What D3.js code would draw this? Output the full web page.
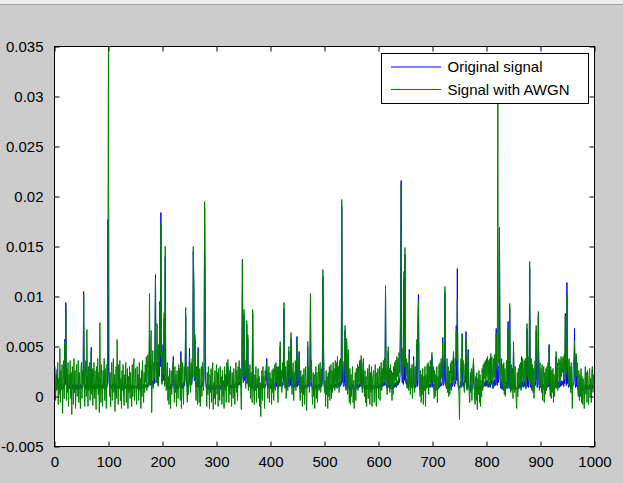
<!DOCTYPE html>
<html>
<head>
<meta charset="utf-8">
<script src="https://cdn.jsdelivr.net/npm/d3@7"></script>
<style>
  body { margin: 0; background: #cccccc; }
  text { font-family: "Liberation Sans", Arial, sans-serif; }
</style>
</head>
<body>
<script>
// signal values are stored in units of 1e-4
const unit = 1e-4;

const original = [
  16, 10, 8, 12, 27, 9, 7, 11, 9, 14, 8, 11, 7, 10, 9, 8, 12, 10, 57, 12, 94, 11, 8, 10, 7, 11, 9, 8, 12, 7, 10, 8, 12, 9, 7, 11, 8, 10, 12, 7, 9, 12, 8, 11, 7, 10, 9, 12, 8, 11,
  10, 8, 12, 105, 11, 7, 9, 12, 8, 20, 10, 7, 11, 9, 8, 12, 10, 49, 9, 7, 11, 8, 12, 9, 7, 10, 8, 12, 9, 11, 7, 10, 8, 12, 9, 11, 7, 10, 12, 8, 9, 11, 7, 10, 8, 12, 9, 14, 177, 30,
  14, 10, 8, 12, 9, 11, 7, 10, 13, 9, 8, 11, 10, 7, 12, 9, 10, 8, 11, 9, 10, 7, 9, 12, 8, 10, 11, 7, 9, 10, 8, 11, 9, 7, 10, 12, 8, 9, 11, 7, 9, 10, 8, 12, 7, 9, 11, 8, 10, 9,
  10, 8, 11, 9, 7, 10, 12, 8, 9, 11, 8, 10, 9, 12, 8, 11, 10, 9, 12, 10, 11, 9, 13, 10, 12, 60, 11, 14, 30, 10, 12, 16, 10, 20, 13, 52, 122, 14, 18, 35, 16, 12, 44, 20, 95, 30, 184, 26, 14, 18,
  52, 16, 78, 12, 140, 20, 11, 9, 14, 8, 11, 8, 10, 7, 12, 9, 8, 11, 13, 40, 10, 8, 11, 7, 9, 12, 8, 10, 7, 9, 11, 13, 9, 45, 10, 8, 13, 10, 8, 15, 11, 20, 80, 16, 12, 10, 14, 9, 12, 48,
  14, 10, 15, 12, 18, 20, 145, 110, 16, 58, 12, 10, 9, 14, 10, 49, 11, 9, 8, 10, 9, 12, 10, 13, 15, 11, 20, 188, 104, 14, 10, 8, 11, 7, 9, 12, 7, 9, 11, 8, 10, 7, 9, 12, 8, 7, 10, 9, 7, 11,
  9, 11, 8, 10, 12, 9, 7, 11, 10, 8, 12, 9, 10, 8, 11, 13, 9, 10, 12, 11, 30, 10, 8, 11, 9, 12, 8, 11, 10, 9, 11, 8, 12, 10, 9, 13, 10, 12, 9, 14, 11, 15, 12, 16, 13, 10, 18, 137, 20, 14,
  82, 16, 24, 12, 18, 72, 13, 58, 11, 16, 10, 14, 9, 13, 11, 8, 82, 12, 9, 8, 11, 9, 12, 8, 10, 9, 12, 8, 10, 7, 9, 11, 8, 12, 10, 13, 9, 11, 8, 12, 10, 14, 38, 12, 9, 11, 13, 8, 12, 9,
  11, 8, 12, 9, 10, 8, 11, 13, 9, 12, 10, 30, 11, 8, 12, 10, 14, 50, 11, 13, 9, 14, 11, 16, 88, 15, 10, 12, 9, 11, 14, 9, 12, 45, 10, 13, 11, 58, 12, 9, 11, 13, 8, 12, 10, 14, 9, 12, 60, 10,
  11, 13, 45, 9, 8, 12, 9, 11, 7, 10, 8, 11, 7, 10, 12, 9, 8, 11, 50, 10, 12, 9, 13, 96, 10, 14, 9, 7, 11, 8, 10, 7, 9, 12, 8, 11, 7, 9, 12, 8, 10, 13, 9, 12, 10, 14, 120, 64, 12, 9,
  10, 7, 11, 8, 9, 7, 10, 8, 12, 7, 9, 12, 8, 11, 7, 12, 9, 11, 8, 13, 10, 12, 9, 35, 11, 13, 9, 14, 10, 15, 12, 190, 14, 35, 11, 10, 13, 66, 10, 8, 54, 11, 8, 43, 10, 7, 11, 7, 10, 8,
  10, 12, 7, 9, 7, 8, 11, 7, 12, 9, 12, 8, 11, 9, 13, 10, 12, 36, 10, 8, 12, 34, 9, 7, 11, 7, 10, 7, 9, 11, 7, 10, 12, 7, 11, 8, 12, 7, 9, 10, 11, 7, 9, 12, 8, 7, 11, 9, 12, 8,
  10, 12, 8, 11, 13, 9, 12, 10, 14, 11, 14, 11, 104, 13, 10, 8, 12, 45, 9, 12, 8, 12, 9, 11, 7, 11, 8, 12, 9, 13, 10, 14, 9, 15, 11, 16, 12, 18, 14, 22, 117, 216, 24, 14, 26, 12, 118, 16, 142, 18,
  13, 18, 10, 16, 12, 9, 47, 13, 8, 12, 9, 13, 7, 11, 40, 10, 8, 12, 9, 13, 52, 10, 72, 102, 14, 9, 7, 11, 7, 10, 8, 11, 7, 9, 8, 12, 7, 10, 9, 12, 9, 13, 8, 12, 10, 14, 9, 13, 40, 10,
  9, 12, 7, 11, 7, 10, 8, 12, 7, 10, 8, 12, 9, 13, 10, 14, 11, 15, 59, 11, 12, 15, 104, 14, 10, 8, 13, 7, 11, 8, 10, 7, 9, 13, 8, 14, 10, 15, 40, 12, 10, 15, 13, 71, 16, 128, 12, 9, 8, 10,
  9, 12, 15, 9, 63, 11, 14, 10, 8, 13, 14, 65, 10, 8, 12, 47, 10, 7, 8, 11, 7, 11, 7, 10, 12, 34, 9, 7, 8, 10, 7, 10, 8, 9, 7, 11, 8, 10, 7, 9, 8, 11, 9, 13, 10, 14, 11, 15, 10, 16,
  11, 16, 9, 14, 10, 15, 9, 38, 12, 16, 12, 8, 15, 10, 17, 11, 14, 68, 13, 11, 30, 14, 20, 160, 18, 11, 8, 15, 7, 13, 8, 13, 7, 12, 7, 10, 14, 8, 12, 75, 13, 8, 88, 11, 7, 13, 7, 12, 7, 50,
  10, 7, 12, 8, 7, 8, 10, 7, 12, 8, 13, 9, 14, 8, 40, 10, 15, 9, 13, 15, 10, 15, 8, 14, 68, 10, 16, 9, 15, 128, 14, 9, 15, 8, 13, 7, 12, 7, 11, 14, 11, 66, 16, 9, 15, 80, 13, 8, 14, 9,
  12, 7, 13, 7, 9, 12, 7, 10, 8, 12, 8, 12, 9, 14, 10, 52, 10, 7, 12, 7, 11, 8, 12, 7, 10, 7, 9, 12, 40, 9, 14, 8, 12, 15, 9, 14, 10, 16, 11, 15, 12, 16, 10, 17, 13, 83, 18, 11, 114, 13,
  15, 9, 16, 10, 13, 8, 14, 9, 7, 11, 14, 15, 68, 12, 9, 40, 10, 14, 8, 7, 11, 7, 10, 7, 12, 7, 9, 7, 9, 8, 7, 8, 12, 7, 10, 7, 11, 9, 7, 10, 12, 7, 9, 7, 10, 12, 8, 9, 11, 8
];

const withAwgn = [
  30, -4, 22, 6, 25, 34, -8, 18, 2, 48, -6, 26, 8, 32, -17, 14, 36, -2, 55, 20, 90, -4, 28, 4, 34, -10, 22, 10, 36, -2, 24, -18, 30, 12, -8, 38, 4, 26, -12, 20, 32, 0, 14, 36, -6, 24, 8, -12, 28, 34,
  -2, 26, 12, 102, 30, -10, 18, 36, 0, 67, 22, -10, 30, 6, 34, -4, 20, 45, 2, 28, -9, 18, 34, -2, 26, 10, -13, 30, 8, 38, 2, 24, -16, 74, 20, -6, 32, 12, -10, 26, 10, 38, -4, 28, 6, -12, 32, 18, 168, 360,
  30, 0, 24, -10, 18, 34, -4, 20, 38, 4, 22, -15, 10, 30, -2, 57, 16, -8, 32, 8, 36, -4, 18, -12, 26, 6, 32, 0, -9, 22, 10, 34, -6, 16, 28, -12, 20, 4, 30, -2, 24, 8, -10, 32, 0, 18, 38, -4, 14, 28,
  4, -8, 30, 10, 22, -4, 34, 6, 18, -12, 26, 0, 36, 12, -6, 24, 4, 32, 14, 40, 6, 28, 42, 10, 36, 103, 12, 44, 66, -16, 24, 46, 8, 34, 18, 48, 118, 30, 14, 73, 36, 10, 52, 28, 92, 40, 173, 36, 12, 30,
  44, 22, 84, 10, 150, 30, 6, 24, 34, -4, 20, -8, 28, 6, -12, 26, 2, 18, 32, 36, 10, -6, 30, 4, 22, -10, 26, 8, -2, 32, 12, 28, -4, 38, -12, 20, 34, 6, -8, 30, 14, 36, 89, 24, 8, -6, 30, 2, 22, 40,
  26, 4, 34, 12, 38, 20, 150, 115, 18, 62, 22, -4, 30, 8, -8, 44, 16, -6, 28, -10, 12, 30, 0, 34, 18, 6, 36, 195, 109, 16, 8, -10, 24, 2, 30, 12, -12, 22, 4, 28, -6, 18, 34, -13, 14, -2, 26, -8, 20, 32,
  2, 24, -10, 28, 8, -4, 30, 12, 20, -8, 26, 0, 16, -12, 30, 6, 22, -6, 34, 10, 37, 14, -6, 26, 2, 30, 12, -10, 24, 8, -2, 28, 10, -8, 22, 34, 4, 26, -4, 30, 12, 36, 16, 28, 6, -13, 38, 135, 30, 14,
  87, 20, 36, 8, 30, 76, 14, 62, 6, 28, 10, 32, -2, 24, 16, -6, 87, 18, 4, -8, 22, 6, 30, -6, 18, 10, 28, -2, 20, -10, 14, -20, 8, 26, -4, 30, 10, 20, -12, 26, 16, 32, 34, 20, -2, 14, 30, -6, 24, 8,
  18, -8, 26, 4, 28, -4, 20, 32, 6, 34, 14, 28, 8, -6, 30, 12, 36, 55, 10, 26, 4, 34, 18, 38, 94, 24, 8, 30, -2, 22, 36, 6, 28, 50, 10, 32, 18, 64, 20, 2, 26, 34, -4, 24, 12, 36, 6, 30, 55, 14,
  24, 32, 40, 8, -4, 26, 4, 20, -10, 22, 2, 28, -8, 18, 30, -2, -14, 20, 55, 12, 30, 4, 34, 103, 16, 36, 2, -8, 24, 0, 22, -12, 18, 30, -2, 24, -6, 14, 32, 6, 26, 34, 4, 28, 12, 36, 127, 60, 20, 4,
  16, -10, 26, 2, 20, -12, 24, 0, 30, -4, 22, 32, -2, 26, 4, 34, 10, 28, 6, 36, 14, 34, 8, 40, 18, 30, 4, 36, 12, 38, 20, 197, 32, 30, 10, 26, 34, 71, 16, 6, 58, 24, 2, 47, 14, -6, 28, -8, 22, 0,
  20, 30, -6, 16, -12, 8, 24, -4, 28, 10, 32, 6, 30, 14, 36, 12, 34, 41, 18, 4, 30, 38, 10, 0, 26, -6, 20, -10, 16, 28, -2, 22, 32, -8, 24, 4, 30, -10, 18, 22, 26, -6, 16, 32, 2, -10, 24, 8, 28, -2,
  20, 30, -4, 22, 34, 6, 28, 12, 36, 14, 38, 16, 111, 32, 20, 2, 30, 50, 10, 28, 4, 32, 8, 26, -4, 24, 2, 30, 12, 34, 16, 36, 10, 40, 20, 38, 14, 44, 24, 50, 80, 213, 40, 22, 48, 16, 125, 30, 149, 36,
  20, 38, 8, 34, 22, 6, 42, 26, 2, 28, 10, 32, -2, 24, 36, 18, 4, 30, 12, 34, 57, 16, 78, 95, 30, 10, 0, 26, -6, 22, 2, 28, -8, 20, 6, 30, -10, 22, 8, 32, 10, 34, 2, 30, 14, 36, 12, 38, 44, 18,
  14, 30, -2, 26, 0, 22, 6, 30, -6, 20, 8, 32, 12, 34, 14, 38, 18, 36, 54, 20, 30, 40, 110, 36, 16, 8, 38, 4, 30, 0, 26, 2, 22, 34, 6, 36, 14, 38, 45, 24, 16, 38, 30, 66, 36, 97, 28, 10, 2, -23,
  14, 30, 38, 10, 62, 24, 36, 16, 4, 32, 34, 58, 14, 6, 30, 42, 18, 2, -6, 24, 4, 28, -4, 22, 30, 38, 12, -2, -8, 20, -4, 24, -13, 18, 2, 26, -6, 22, -10, 16, 0, 28, 6, 32, 10, 34, 18, 36, 14, 38,
  20, 40, 10, 36, 16, 38, 12, 43, 22, 40, 24, 8, 38, 18, 42, 20, 36, 63, 30, 26, 300, 34, 44, 169, 40, 22, 14, 38, 10, 32, 6, 34, 2, 28, 0, 22, 36, 8, 30, 68, 30, 10, 93, 26, 4, 32, 6, 28, -2, 55,
  22, 4, 30, 10, -4, -12, 24, 0, 28, 8, 32, 12, 34, 6, 36, 20, 38, 10, 30, 36, 14, 38, 8, 34, 73, 20, 40, 16, 38, 135, 34, 12, 38, 6, 32, 4, 28, -2, 26, 36, 24, 71, 40, 16, 38, 85, 30, 6, 34, 10,
  28, 4, 32, -4, 18, 30, -6, 24, 2, 28, 6, 30, 10, 34, 12, 48, 20, 0, 30, -2, 26, 4, 28, -6, 22, 0, 20, 30, 45, 8, 34, 6, 30, 38, 12, 36, 16, 40, 20, 38, 24, 40, 16, 42, 28, 80, 46, 22, 103, 30,
  36, 10, 38, 14, 30, 4, 34, 8, -12, 24, 34, 38, 55, 26, 12, 43, 20, 34, 6, 0, 26, -4, 22, 0, 28, -6, 20, -8, 18, 4, -12, 16, 30, 2, 24, -6, 26, 10, -8, 22, 28, 0, 18, -6, 24, 30, 4, 16, 22, 10
];

const xTicks = [0, 100, 200, 300, 400, 500, 600, 700, 800, 900, 1000];
const yTicks = [-0.005, 0, 0.005, 0.01, 0.015, 0.02, 0.025, 0.03, 0.035];
const seriesNames = ['Original signal', 'Signal with AWGN'];
const seriesColors = ['#0000ff', '#008000'];

const width = 623, height = 483;
const margin = { left: 54.5, right: 28.5, top: 46.5, bottom: 36.5 };

const svg = d3.select('body').append('svg')
  .attr('width', width)
  .attr('height', height);

// figure background + top edge
svg.append('rect').attr('width', width).attr('height', height).attr('fill', '#cccccc');
svg.append('rect').attr('width', width).attr('height', 4).attr('fill', '#ededed');
svg.append('line').attr('x1', 0).attr('x2', width).attr('y1', 4.5).attr('y2', 4.5)
  .attr('stroke', '#a0a0a0');

const xScale = d3.scaleLinear().domain([0, 1000]).range([margin.left, width - margin.right]);
const yScale = d3.scaleLinear().domain([-0.005, 0.035]).range([height - margin.bottom, margin.top]);

const plotW = xScale.range()[1] - xScale.range()[0];
const plotH = yScale.range()[0] - yScale.range()[1];

svg.append('rect')
  .attr('x', margin.left).attr('y', margin.top)
  .attr('width', plotW).attr('height', plotH)
  .attr('fill', '#ffffff');

svg.append('clipPath').attr('id', 'clip')
  .append('rect')
  .attr('x', margin.left).attr('y', margin.top)
  .attr('width', plotW).attr('height', plotH);

const line = d3.line()
  .x((d, i) => xScale(i + 1))
  .y(d => yScale(d * unit));

const lines = svg.append('g').attr('clip-path', 'url(#clip)');
[original, withAwgn].forEach((s, k) => {
  lines.append('path')
    .datum(s)
    .attr('fill', 'none')
    .attr('stroke', seriesColors[k])
    .attr('stroke-width', 1)
    .attr('d', line);
});

const tickLen = 5;
const fmt = d => String(+d.toFixed(3));

function styleAxis(g) {
  g.selectAll('.domain').remove();
  g.selectAll('.tick line').attr('stroke', '#000');
  g.selectAll('text')
    .attr('fill', '#000')
    .style('font-size', '15px')
    .style('font-family', '"Liberation Sans", Arial, sans-serif');
}

svg.append('g')
  .attr('transform', `translate(0, ${yScale.range()[0]})`)
  .call(d3.axisBottom(xScale).tickValues(xTicks).tickFormat(d3.format('d'))
    .tickSizeInner(-tickLen).tickSizeOuter(0).tickPadding(10))
  .call(styleAxis);

svg.append('g')
  .attr('transform', `translate(0, ${yScale.range()[1]})`)
  .call(d3.axisTop(xScale).tickValues(xTicks).tickFormat('')
    .tickSizeInner(-tickLen).tickSizeOuter(0))
  .call(styleAxis);

svg.append('g')
  .attr('transform', `translate(${xScale.range()[0]}, 0)`)
  .call(d3.axisLeft(yScale).tickValues(yTicks).tickFormat(fmt)
    .tickSizeInner(-tickLen).tickSizeOuter(0).tickPadding(11))
  .call(styleAxis);

svg.append('g')
  .attr('transform', `translate(${xScale.range()[1]}, 0)`)
  .call(d3.axisRight(yScale).tickValues(yTicks).tickFormat('')
    .tickSizeInner(-tickLen).tickSizeOuter(0))
  .call(styleAxis);

// axes box
svg.append('rect')
  .attr('x', margin.left).attr('y', margin.top)
  .attr('width', plotW).attr('height', plotH)
  .attr('fill', 'none').attr('stroke', '#000');

// legend
const legend = svg.append('g').attr('transform', 'translate(381.5, 53.5)');
legend.append('rect')
  .attr('width', 207).attr('height', 50)
  .attr('fill', '#ffffff').attr('stroke', '#000');

const item = legend.selectAll('g.item')
  .data(seriesNames)
  .enter().append('g')
  .attr('class', 'item')
  .attr('transform', (d, i) => `translate(0, ${13.5 + i * 22.5})`);

item.append('line')
  .attr('x1', 9.5).attr('x2', 59.5)
  .attr('stroke', (d, i) => seriesColors[i]);

item.append('text')
  .attr('x', 66)
  .attr('dy', '0.35em')
  .style('font-size', '15px')
  .text(d => d);
</script>
</body>
</html>
